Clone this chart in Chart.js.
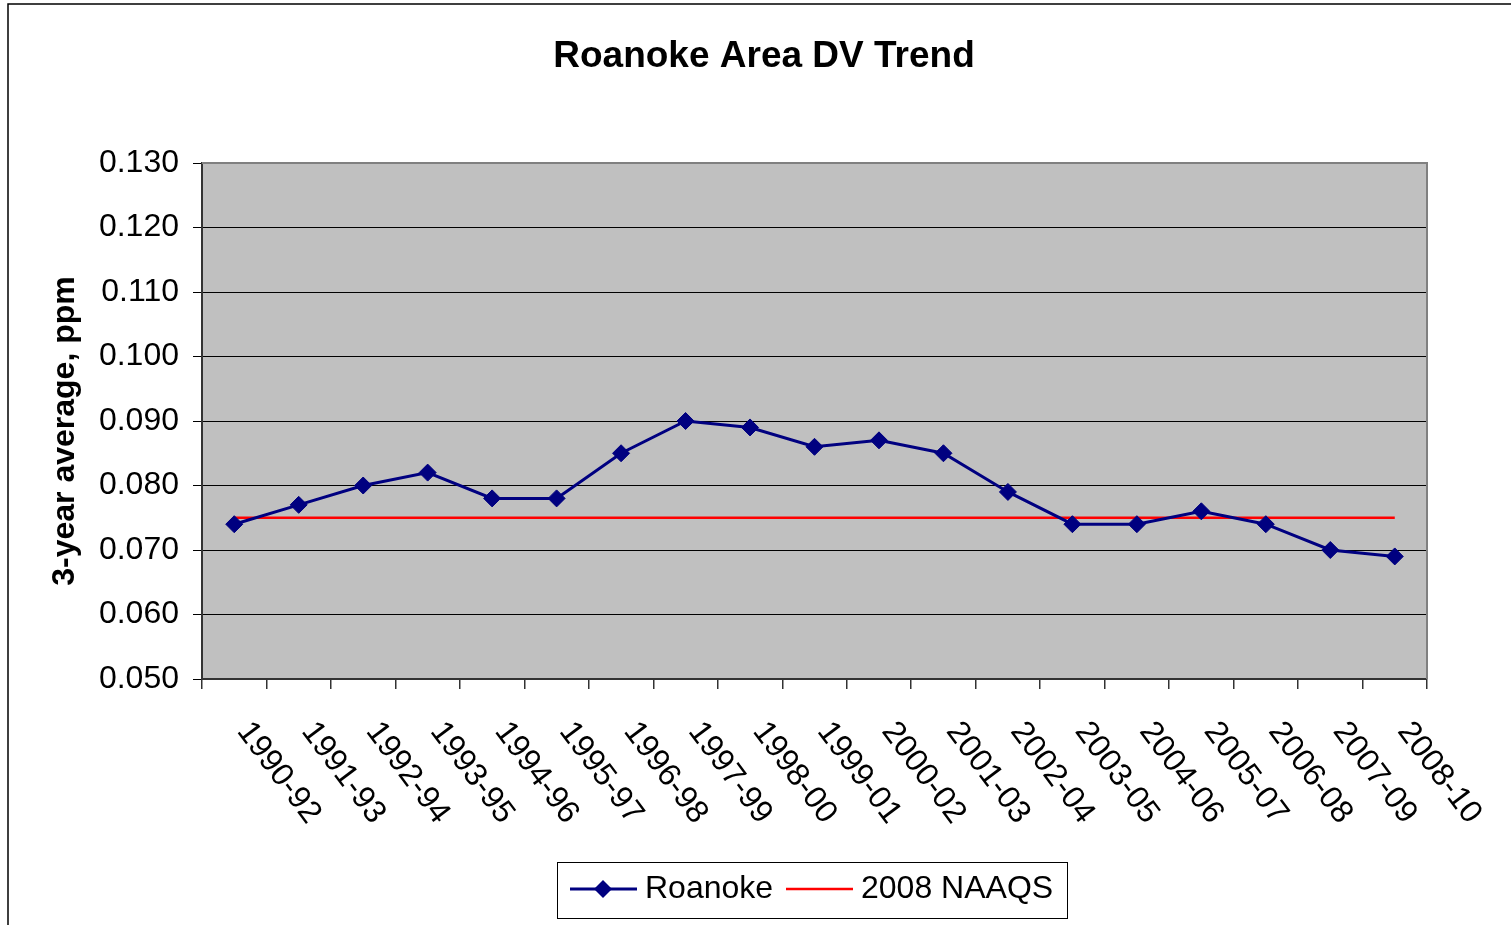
<!DOCTYPE html>
<html>
<head>
<meta charset="utf-8">
<script src="https://cdn.jsdelivr.net/npm/chart.js@4.4.0/dist/chart.umd.min.js"></script>
<style>
html, body { margin:0; padding:0; background:#fff; overflow:hidden; }
#wrap { position:absolute; left:0; top:0; width:1511px; height:925px; }
</style>
</head>
<body>
<div id="wrap"><canvas id="dvChart" width="1511" height="925"></canvas></div>
<script>
const periods = ["1990-92","1991-93","1992-94","1993-95","1994-96","1995-97","1996-98","1997-99","1998-00","1999-01",
                 "2000-02","2001-03","2002-04","2003-05","2004-06","2005-07","2006-08","2007-09","2008-10"];
const roanoke = [0.074,0.077,0.080,0.082,0.078,0.078,0.085,0.090,0.089,0.086,
                 0.087,0.085,0.079,0.074,0.074,0.076,0.074,0.070,0.069];
const naaqs   = [0.075,0.075,0.075,0.075,0.075,0.075,0.075,0.075,0.075,0.075,
                 0.075,0.075,0.075,0.075,0.075,0.075,0.075,0.075,0.075];
const yMin = 0.050, yMax = 0.130, yStep = 0.010;

const FONT = "'Liberation Sans', Arial, sans-serif";
const NAVY = "#000080";
const RED = "#FF0000";
const LABEL_ANGLE = 53 * Math.PI / 180;

// frame, plot background, rotated labels, axis title and legend box
const decor = {
    id: "decor",
    beforeDraw(chart) {
        const ctx = chart.ctx, a = chart.chartArea;
        ctx.save();
        ctx.fillStyle = "#fff";
        ctx.fillRect(0, 0, chart.width, chart.height);
        ctx.strokeStyle = "#000"; ctx.lineWidth = 1.5;
        ctx.beginPath(); ctx.moveTo(8, chart.height); ctx.lineTo(8, 4); ctx.lineTo(chart.width, 4); ctx.stroke();
        ctx.fillStyle = "#C0C0C0";
        ctx.fillRect(a.left, a.top, a.right - a.left, a.bottom - a.top);
        ctx.restore();
    },
    beforeDatasetsDraw(chart) {
        const ctx = chart.ctx, a = chart.chartArea;
        ctx.save();
        ctx.strokeStyle = "#808080"; ctx.lineWidth = 2;
        ctx.beginPath(); ctx.moveTo(a.left, a.top); ctx.lineTo(a.right, a.top); ctx.lineTo(a.right, a.bottom); ctx.stroke();
        ctx.restore();
    },
    afterDraw(chart) {
        const ctx = chart.ctx, a = chart.chartArea, xs = chart.scales.x;
        ctx.save();
        // x labels, running down to the right
        ctx.font = "32px " + FONT;
        ctx.fillStyle = "#000"; ctx.textAlign = "left"; ctx.textBaseline = "middle";
        periods.forEach((p, i) => {
            ctx.save();
            ctx.translate(xs.getPixelForValue(i) + 9, a.bottom + 47);
            ctx.rotate(LABEL_ANGLE);
            ctx.fillText(p, 0, 0);
            ctx.restore();
        });

        // y axis title
        ctx.save();
        ctx.font = "bold 32px " + FONT;
        ctx.textAlign = "center";
        ctx.translate(65, 431);
        ctx.rotate(-Math.PI / 2);
        ctx.fillText("3-year average, ppm", 0, 0);
        ctx.restore();

        // legend
        ctx.strokeStyle = "#000"; ctx.lineWidth = 1;
        ctx.strokeRect(557.5, 862.5, 510, 56);
        const ly = 889;
        ctx.strokeStyle = NAVY; ctx.lineWidth = 3;
        ctx.beginPath(); ctx.moveTo(570, ly); ctx.lineTo(637, ly); ctx.stroke();
        ctx.fillStyle = NAVY;
        ctx.beginPath(); ctx.moveTo(603, ly - 9); ctx.lineTo(612, ly); ctx.lineTo(603, ly + 9); ctx.lineTo(594, ly); ctx.closePath(); ctx.fill();
        ctx.strokeStyle = RED; ctx.lineWidth = 2.5;
        ctx.beginPath(); ctx.moveTo(786, ly); ctx.lineTo(853, ly); ctx.stroke();
        ctx.fillStyle = "#000"; ctx.font = "32px " + FONT; ctx.textAlign = "left";
        ctx.fillText("Roanoke", 645, ly);
        ctx.fillText("2008 NAAQS", 861, ly);
        ctx.restore();
    }
};

const ctx = document.getElementById("dvChart").getContext("2d");
new Chart(ctx, {
    type: "line",
    data: {
        labels: periods,
        datasets: [
            {label: "Roanoke", data: roanoke, borderColor: NAVY, backgroundColor: NAVY, borderWidth: 3,
             pointStyle: "rectRot", pointRadius: 8.5, pointBorderWidth: 1, pointBackgroundColor: NAVY,
             pointBorderColor: NAVY, tension: 0},
            {label: "2008 NAAQS", data: naaqs, borderColor: RED, backgroundColor: RED, borderWidth: 2.5,
             pointRadius: 0, tension: 0}
        ]
    },
    options: {
        responsive: false,
        animation: false,
        devicePixelRatio: 1,
        layout: {padding: {left: 17, right: 0, top: 0, bottom: 0}},
        plugins: {
            legend: {display: false},
            tooltip: {enabled: false},
            title: {display: true, text: "Roanoke Area DV Trend", color: "#000",
                    font: {family: FONT, size: 37, weight: "bold", lineHeight: 1.2},
                    padding: {top: 35, bottom: 83.6}}
        },
        scales: {
            x: {
                type: "category",
                offset: true,
                ticks: {display: false},
                grid: {drawOnChartArea: false, offset: true, tickLength: 10, color: "#333", lineWidth: 1.5},
                border: {color: "#333", width: 2},
                afterFit(scale) { scale.height = 246; scale.paddingLeft = 0; scale.paddingRight = 84; }
            },
            y: {
                min: yMin, max: yMax,
                ticks: {stepSize: yStep, color: "#000", padding: 14, font: {family: FONT, size: 32},
                        callback: v => v.toFixed(3)},
                grid: {color: "#000", lineWidth: 1, tickLength: 9},
                border: {color: "#333", width: 2},
                afterFit(scale) { scale.width = 185; }
            }
        }
    },
    plugins: [decor]
});
</script>
</body>
</html>
